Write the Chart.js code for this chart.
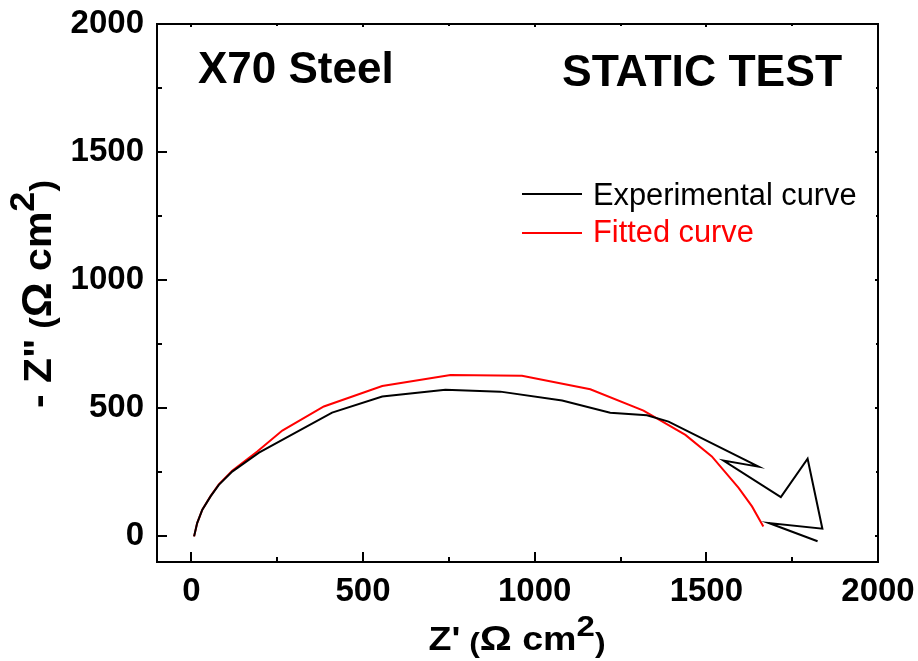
<!DOCTYPE html>
<html>
<head>
<meta charset="utf-8">
<script src="https://cdn.jsdelivr.net/npm/chart.js@4/dist/chart.umd.min.js"></script>
<style>
html,body{margin:0;padding:0;background:#fff;}
#wrap{width:918px;height:661px;position:relative;}
</style>
</head>
<body>
<div id="wrap"><canvas id="c" width="918" height="661"></canvas></div>
<script>
// ---- data ----
const expX = [8, 17, 32, 56, 80, 119, 197, 410, 556, 740, 900, 1080, 1220, 1327, 1390, 1652, 1550, 1717, 1795, 1838, 1682, 1824];
const expY = [0, 52, 104, 156, 201, 253, 327, 483, 546, 572, 565, 530, 483, 473, 448, 272, 296, 153, 303, 30, 52, -19];
const fitX = [8, 17, 32, 56, 80, 119, 192, 265, 386, 556, 755, 963, 1162, 1317, 1439, 1516, 1594, 1633, 1666];
const fitY = [0, 52, 104, 157, 203, 256, 331, 413, 507, 587, 630, 627, 574, 491, 396, 312, 189, 117, 39];
const xMajor = [0, 500, 1000, 1500, 2000];
const xMinor = [250, 750, 1250, 1750];
const yMajor = [0, 500, 1000, 1500, 2000];
const yMinor = [250, 750, 1250, 1750];
const seriesNames = ['Experimental curve', 'Fitted curve'];
const annotations = ['X70 Steel', 'STATIC TEST'];

const FONT = '"Liberation Sans", Arial, sans-serif';
const toPts = (xs, ys) => xs.map((x, i) => ({x: x, y: ys[i]}));

const framePlugin = {
  id: 'frame',
  afterDatasetsDraw(chart) {
    const ctx = chart.ctx, a = chart.chartArea;
    const xs = chart.scales.x, ys = chart.scales.y;
    ctx.save();
    ctx.strokeStyle = '#000';
    ctx.lineWidth = 2;
    ctx.strokeRect(a.left, a.top, a.right - a.left, a.bottom - a.top);
    ctx.beginPath();
    const tick = (vals, len, topLen) => {
      vals.forEach(v => {
        const px = Math.round(xs.getPixelForValue(v));
        ctx.moveTo(px, a.bottom); ctx.lineTo(px, a.bottom - len);
        ctx.moveTo(px, a.top); ctx.lineTo(px, a.top + topLen);
      });
    };
    const ytick = (vals, len, rLen) => {
      vals.forEach(v => {
        const py = Math.round(ys.getPixelForValue(v));
        ctx.moveTo(a.left, py); ctx.lineTo(a.left + len, py);
        ctx.moveTo(a.right, py); ctx.lineTo(a.right - rLen, py);
      });
    };
    tick(xMajor, 10, 3); tick(xMinor, 5, 2);
    ytick(yMajor, 10, 3); ytick(yMinor, 5, 2);
    ctx.stroke();

    // annotations
    ctx.fillStyle = '#000';
    ctx.font = 'bold 44px ' + FONT;
    ctx.textBaseline = 'alphabetic';
    ctx.textAlign = 'left';
    ctx.fillText(annotations[0], 198, 83);
    ctx.font = 'bold 44.5px ' + FONT;
    ctx.fillText(annotations[1], 562, 86);

    // legend
    const ds = chart.data.datasets;
    const lg = [[194, 205], [233, 242]];
    ds.forEach((d, i) => {
      ctx.strokeStyle = d.borderColor;
      ctx.lineWidth = 2;
      ctx.beginPath();
      ctx.moveTo(522, lg[i][0]); ctx.lineTo(582, lg[i][0]);
      ctx.stroke();
      ctx.fillStyle = d.borderColor;
      ctx.font = '30.8px ' + FONT;
      ctx.fillText(d.label, 593, lg[i][1]);
    });

    // axis titles with superscript
    const parts = (first, k) => [
      {t: first, f: 'bold ' + 33 * k + 'px ', dy: 0},
      {t: ' (', f: 'bold ' + 28 * k + 'px ', dy: 2},
      {t: '\u03A9', f: 'bold ' + 35 * k + 'px ', dy: 0},
      {t: ' cm', f: 'bold ' + 33 * k + 'px ', dy: 0},
      {t: '2', f: 'bold ' + 29 * k + 'px ', dy: -14 * k},
      {t: ')', f: 'bold ' + 28 * k + 'px ', dy: 2}
    ];
    const drawTitle = (ps, cx, cy, rot, target) => {
      ctx.save();
      ctx.translate(cx, cy);
      ctx.rotate(rot);
      let w = 0;
      ps.forEach(p => { ctx.font = p.f + FONT; p.w = ctx.measureText(p.t).width; w += p.w; });
      ctx.scale(target / w, 1);
      let x = -w / 2;
      ctx.fillStyle = '#000';
      ctx.textAlign = 'left';
      ps.forEach(p => { ctx.font = p.f + FONT; ctx.fillText(p.t, x, p.dy); x += p.w; });
      ctx.restore();
    };
    drawTitle(parts("Z'", 1), 517, 650, 0, 177);
    drawTitle(parts('- Z"', 1.2), 51, 294, -Math.PI / 2, 228);
    ctx.restore();
  }
};

new Chart(document.getElementById('c'), {
  type: 'line',
  data: {
    datasets: [
      {label: seriesNames[0], data: toPts(expX, expY), borderColor: '#000000', borderWidth: 2, pointRadius: 0, tension: 0, fill: false},
      {label: seriesNames[1], data: toPts(fitX, fitY), borderColor: '#ff0000', borderWidth: 2, pointRadius: 0, tension: 0, fill: false}
    ]
  },
  options: {
    responsive: false,
    animation: false,
    layout: {padding: {top: 24, right: 40, left: 0, bottom: 0}},
    plugins: {legend: {display: false}, tooltip: {enabled: false}},
    scales: {
      x: {
        type: 'linear', min: -100, max: 2000,
        afterBuildTicks: s => { s.ticks = xMajor.map(v => ({value: v})); },
        afterFit: s => { s.height = 99; s.paddingLeft = 0; s.paddingRight = 0; },
        grid: {display: false, drawTicks: false},
        border: {display: false},
        ticks: {autoSkip: false, maxRotation: 0, padding: 10, color: '#000',
          callback: v => String(v),
          font: {family: FONT, size: 33, weight: 'bold'}}
      },
      y: {
        type: 'linear', min: -100, max: 2000,
        afterBuildTicks: s => { s.ticks = yMajor.map(v => ({value: v})); },
        afterFit: s => { s.width = 157; s.paddingTop = 0; s.paddingBottom = 0; },
        grid: {display: false, drawTicks: false},
        border: {display: false},
        ticks: {autoSkip: false, padding: 13, color: '#000',
          callback: v => String(v),
          font: {family: FONT, size: 33, weight: 'bold'}}
      }
    }
  },
  plugins: [framePlugin]
});
</script>
</body>
</html>
